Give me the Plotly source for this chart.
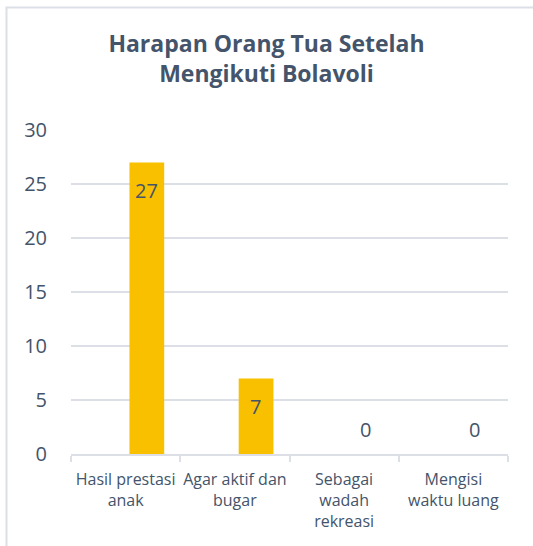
import plotly.graph_objects as go

categories = ["Hasil prestasi<br>anak", "Agar aktif dan<br>bugar", "Sebagai<br>wadah<br>rekreasi", "Mengisi<br>waktu luang"]
values = [27, 7, 0, 0]
y_ticks = [0, 5, 10, 15, 20, 25, 30]
title_text = "Harapan Orang Tua Setelah<br>Mengikuti Bolavoli"

TEXT = "#44546A"
GRID = "#DCE0E6"
FONT = "Open Sans"

L, R, T, B = 71, 25, 130, 92
W, H = 533, 546
pw, ph = W - L - R, H - T - B

fig = go.Figure()
fig.add_trace(go.Bar(
    x=categories, y=values,
    width=0.318, offset=0.035,
    marker=dict(color="#F9C000", line=dict(width=0)),
    hoverinfo="skip",
))

annotations = []
for c, v in zip(categories, values):
    annotations.append(dict(
        x=c, y=v, xref="x", yref="y", text=str(v), showarrow=False,
        xshift=21, yshift=(-28 if v > 0 else 25),
        font=dict(family=FONT, size=20, color=TEXT),
    ))

fig.update_layout(
    width=W, height=H,
    margin=dict(l=L, r=R, t=T, b=B, autoexpand=False),
    paper_bgcolor="white", plot_bgcolor="white",
    showlegend=False,
    title=dict(text=title_text, x=0.5, xref="container", xanchor="center",
               y=1 - 52 / H, yref="container", yanchor="middle",
               font=dict(family=FONT, size=23, color=TEXT, weight="bold")),
    font=dict(family=FONT, color=TEXT),
    annotations=annotations,
    shapes=[dict(type="rect", xref="paper", yref="paper",
                 x0=(6.5 - L) / pw, x1=(W + 20 - L) / pw,
                 y0=-(H + 20 - (H - B)) / ph, y1=1 + (T - 7.5) / ph,
                 line=dict(color="#DCE0E6", width=2), layer="below")],
)
fig.update_yaxes(range=[0, 30], tickvals=y_ticks, showgrid=True, gridcolor=GRID, gridwidth=2,
                 zeroline=False, showline=False, ticks="",
                 tickfont=dict(family=FONT, size=20, color=TEXT), ticklabelstandoff=23)
fig.update_xaxes(showline=True, linecolor=GRID, linewidth=2, ticks="outside", tickson="boundaries",
                 ticklen=6, tickcolor=GRID, tickwidth=2, showgrid=False, tickangle=0,
                 ticklabelstandoff=10,
                 tickfont=dict(family=FONT, size=16, color=TEXT))

fig.write_html("out.html", config={"displayModeBar": False},
               post_script="document.body.style.margin='0';document.body.style.padding='0';")
